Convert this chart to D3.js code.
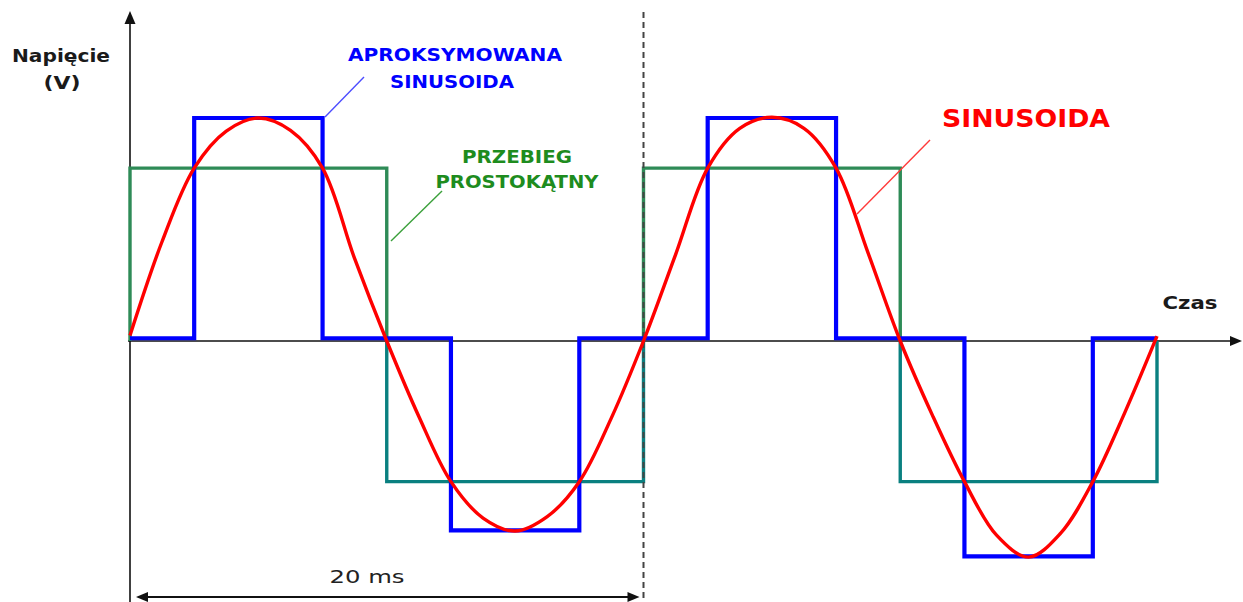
<!DOCTYPE html>
<html>
<head>
<meta charset="utf-8">
<script src="https://cdn.jsdelivr.net/npm/d3@7"></script>
<style>
  html, body { margin: 0; padding: 0; background: #fff; }
  svg { display: block; }
  text { font-family: "DejaVu Sans", Verdana, sans-serif; }
</style>
</head>
<body>
<svg id="chart" width="1243" height="602"></svg>
<script>
// ---- data (time in ms, voltage in V) ----
const sineTimes = [0, 1.25, 2.5, 3.75, 5, 6.25, 7.5, 8.75, 10,
                   11.25, 12.5, 13.75, 15, 16.25, 17.5, 18.75, 20,
                   21.25, 22.5, 23.75, 25, 26.25, 27.5, 28.75, 30,
                   31.25, 32.5, 33.75, 35, 36.25, 37.5, 38.75, 40];
const sineValues = [8, 145, 252, 306, 325, 307, 252, 120, 0,
                    -110, -205, -258, -277, -256, -205, -112, 0,
                    126, 252, 310, 326, 310, 252, 128, 0,
                    -108, -205, -283, -315, -280, -205, -104, 7];

const approxTimes = [0, 2.5, 7.5, 12.5, 17.5, 22.5, 27.5, 32.5, 37.5, 40];
const approxValues = [4, 325, 4, -276, 4, 325, 4, -314, 4, 4];

const squareTimes = [0, 0, 10, 20, 30, 40, 40];
const squareValues = [0, 252, -205, 252, -205, -205, 0];

const periodMs = 20;
const periodLabel = "20 ms";
const yAxisLabel = ["Napięcie", "(V)"];
const xAxisLabel = "Czas";
const approxLabel = ["APROKSYMOWANA", "SINUSOIDA"];
const squareLabel = ["PRZEBIEG", "PROSTOKĄTNY"];
const sineLabel = "SINUSOIDA";

// ---- scales ----
const svg = d3.select("#chart");
const W = 1243, H = 602;
const x = d3.scaleLinear().domain([0, 40]).range([130, 1157]);
const y = d3.scaleLinear().domain([0, 325]).range([341, 118]);

svg.append("rect").attr("width", W).attr("height", H).attr("fill", "#fff");

// ---- axes ----
const axisColor = "#111";
const x0 = x(0), y0 = y(0);
svg.append("line").attr("x1", x0).attr("x2", x0).attr("y1", 20).attr("y2", H)
  .attr("stroke", axisColor).attr("stroke-width", 1.6);
svg.append("path").attr("d", `M${x0},11 L${x0 - 5.5},24 L${x0 + 5.5},24 Z`).attr("fill", axisColor);
svg.append("line").attr("x1", x0 - 2).attr("x2", W - 8).attr("y1", y0).attr("y2", y0)
  .attr("stroke", axisColor).attr("stroke-width", 1.6);
svg.append("path").attr("d", `M${W - 1},${y0} L${W - 13},${y0 - 5} L${W - 13},${y0 + 5} Z`).attr("fill", axisColor);

// ---- clip paths for two-tone square wave ----
const defs = svg.append("defs");
defs.append("clipPath").attr("id", "above").append("rect")
  .attr("x", 0).attr("y", 0).attr("width", W).attr("height", y0);
defs.append("clipPath").attr("id", "below").append("rect")
  .attr("x", 0).attr("y", y0).attr("width", W).attr("height", H - y0);

const stepLine = d3.line().x(d => x(d[0])).y(d => y(d[1])).curve(d3.curveStepAfter);
const squarePts = squareTimes.map((t, i) => [t, squareValues[i]]);
svg.append("path").attr("d", stepLine(squarePts)).attr("fill", "none")
  .attr("stroke", "#2e8b57").attr("stroke-width", 3.4).attr("clip-path", "url(#above)");
svg.append("path").attr("d", stepLine(squarePts)).attr("fill", "none")
  .attr("stroke", "#0a8080").attr("stroke-width", 3.4).attr("clip-path", "url(#below)");

// ---- dashed period line ----
svg.append("line").attr("x1", x(periodMs)).attr("x2", x(periodMs)).attr("y1", 12).attr("y2", H)
  .attr("stroke", "#444").attr("stroke-width", 2).attr("stroke-dasharray", "6,4");

// ---- approximated sinusoid (blue steps) ----
const approxPts = approxTimes.map((t, i) => [t, approxValues[i]]);
svg.append("path").attr("d", stepLine(approxPts)).attr("fill", "none")
  .attr("stroke", "#0000ff").attr("stroke-width", 4.2).attr("stroke-linejoin", "miter");

// ---- sinusoid (red) ----
const sineLine = d3.line().x(d => x(d[0])).y(d => y(d[1])).curve(d3.curveCatmullRom.alpha(0.5));
svg.append("path").attr("d", sineLine(sineTimes.map((t, i) => [t, sineValues[i]])))
  .attr("fill", "none").attr("stroke", "#ff0000").attr("stroke-width", 3.4);

// ---- leader lines ----
const leaders = [
  { x1: 325, y1: 117, x2: 364, y2: 77, c: "#4d4dff" },
  { x1: 391, y1: 241, x2: 442, y2: 191, c: "#3aa03a" },
  { x1: 857, y1: 214, x2: 930, y2: 140, c: "#ff3a3a" }
];
svg.selectAll("line.leader").data(leaders).enter().append("line").attr("class", "leader")
  .attr("x1", d => d.x1).attr("y1", d => d.y1).attr("x2", d => d.x2).attr("y2", d => d.y2)
  .attr("stroke", d => d.c).attr("stroke-width", 1.4);

// ---- labels ----
function label(txt, cx, baseline, size, weight, color, len) {
  const t = svg.append("text").attr("x", cx).attr("y", baseline)
    .attr("text-anchor", "middle").attr("font-size", size).attr("font-weight", weight)
    .attr("fill", color).text(txt);
  if (len) t.attr("textLength", len).attr("lengthAdjust", "spacingAndGlyphs");
  return t;
}
label(yAxisLabel[0], 61, 62, 17, "bold", "#1a1a1a", 98);
label(yAxisLabel[1], 62, 89, 17, "bold", "#1a1a1a", 37);
label(approxLabel[0], 455, 61, 17, "bold", "#0000ff", 214);
label(approxLabel[1], 452, 88, 17, "bold", "#0000ff", 124);
label(squareLabel[0], 517, 163, 17, "bold", "#1e8c1e", 110);
label(squareLabel[1], 517, 188, 17, "bold", "#1e8c1e", 163);
label(sineLabel, 1026, 127, 24, "bold", "#ff0000", 168);
label(xAxisLabel, 1190, 309, 17, "bold", "#1a1a1a", 55);
label(periodLabel, 367, 583, 17, "normal", "#222", 75);

// ---- period dimension arrow ----
const ay = 597, ax1 = x(0) + 6, ax2 = x(periodMs) - 4;
svg.append("line").attr("x1", ax1 + 8).attr("x2", ax2 - 8).attr("y1", ay).attr("y2", ay)
  .attr("stroke", "#111").attr("stroke-width", 1.8);
svg.append("path").attr("d", `M${ax1},${ay} L${ax1 + 12},${ay - 5} L${ax1 + 12},${ay + 5} Z`).attr("fill", "#111");
svg.append("path").attr("d", `M${ax2},${ay} L${ax2 - 12},${ay - 5} L${ax2 - 12},${ay + 5} Z`).attr("fill", "#111");
</script>
</body>
</html>
